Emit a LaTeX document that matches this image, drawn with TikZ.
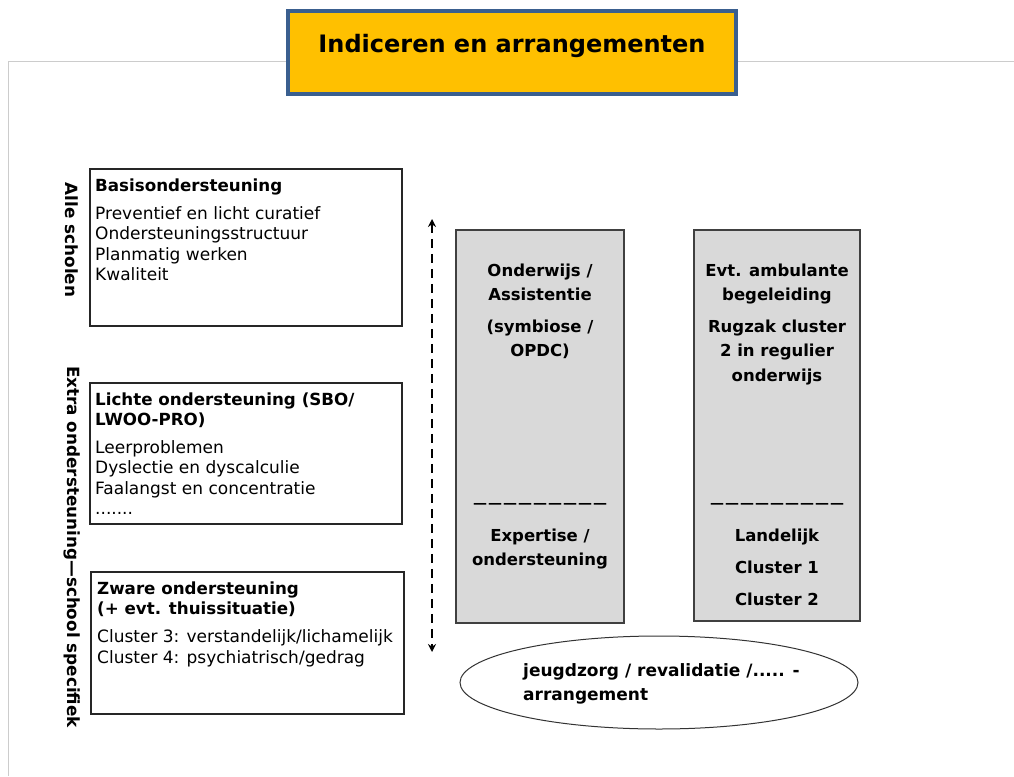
\documentclass[tikz,border=0pt]{standalone}
\usepackage{fontspec}
\setmainfont{DejaVu Sans}
\usetikzlibrary{shapes.geometric,arrows.meta}
\definecolor{titlefill}{HTML}{FFC000}
\definecolor{titleedge}{HTML}{3A5F8F}
\definecolor{grayfill}{HTML}{D9D9D9}
\definecolor{frameline}{HTML}{CCCCCC}
\newcommand{\dashrow}{{\fontsize{24}{24}\selectfont\mdseries\_\kern3pt\_\kern3pt\_\kern3pt\_\kern3pt\_\kern3pt\_\kern3pt\_\kern3pt\_\kern3pt\_}}
\tikzset{
  whitebox/.style={draw=black!85,line width=1.3pt,fill=white},
  graybox/.style={draw=black!75,line width=1.5pt,fill=grayfill},
  body/.style={anchor=base west,inner sep=0pt,align=left,font=\fontsize{17}{20.5}\selectfont},
  head/.style={anchor=base west,inner sep=0pt,align=left,font=\fontsize{16.7}{20}\selectfont\bfseries},
  gtext/.style={anchor=base,inner sep=0pt,align=center,font=\fontsize{16.5}{24}\selectfont\bfseries},
  side/.style={rotate=-90,inner sep=0pt,font=\fontsize{16.8}{18}\selectfont\bfseries},
}
\begin{document}
\begin{tikzpicture}[x=1pt,y=-1pt]
\useasboundingbox (0,0) rectangle (1014,776);
% page frame
\draw[frameline,line width=1pt] (8,776) -- (8,62) -- (1014,62);
% title
\node[draw=titleedge,line width=4pt,fill=titlefill,minimum width=448pt,minimum height=83pt,inner sep=0pt] (title) at (512,52.5) {};
\node[inner sep=0pt,font=\fontsize{24}{26}\selectfont\bfseries] (titletext) at (512,46) {Indiceren en arrangementen};
% left boxes
\node[whitebox,minimum width=312pt,minimum height=157pt,inner sep=0pt] (b1) at (246,247.5) {};
\node[whitebox,minimum width=312pt,minimum height=141pt,inner sep=0pt] (b2) at (246,453.5) {};
\node[whitebox,minimum width=313pt,minimum height=142pt,inner sep=0pt] (b3) at (247.5,643) {};
\node[head] (h1) at (95,191) {Basisondersteuning};
\node[body] (t1) at (95,280.5) {Preventief en licht curatief\\Ondersteuningsstructuur\\Planmatig werken\\Kwaliteit};
\node[head] (h2) at (95,425) {Lichte ondersteuning (SBO/\\LWOO-PRO)};
\node[body] (t2) at (95,514.5) {Leerproblemen\\Dyslectie en dyscalculie\\Faalangst en concentratie\\.......};
\node[head] (h3) at (97,614) {Zware ondersteuning\\(+ evt. thuissituatie)};
\node[body,font=\fontsize{17}{21.5}\selectfont] (t3) at (97,663.5) {Cluster 3: verstandelijk/lichamelijk\\Cluster 4: psychiatrisch/gedrag};
% side labels
\node[side] (s1) at (72,240) {Alle scholen};
\node[side] (s2) at (72,547) {Extra ondersteuning—school specifiek};
% dashed arrow
\coordinate (atop) at (432,219);
\coordinate (abot) at (432,652);
\draw[dashed,dash pattern=on 9pt off 6pt,line width=1.5pt,{Stealth[length=8pt,width=8pt]}-{Stealth[length=8pt,width=8pt]}] (atop) -- (abot);
% gray boxes
\node[graybox,minimum width=168pt,minimum height=393pt,inner sep=0pt] (g1) at (540,426.5) {};
\node[graybox,minimum width=166pt,minimum height=391pt,inner sep=0pt] (g2) at (777,425.5) {};
\node[gtext] (g1a) at (540,300) {Onderwijs /\\Assistentie};
\node[gtext] (g1b) at (540,356) {(symbiose /\\OPDC)};
\node[gtext] (g1c) at (540,499) {\dashrow};
\node[gtext] (g1d) at (540,565) {Expertise /\\ondersteuning};
\node[gtext] (g2a) at (777,300) {Evt. ambulante\\begeleiding};
\node[gtext,font=\fontsize{16.5}{24.5}\selectfont\bfseries] (g2b) at (777,381) {Rugzak cluster\\2 in regulier\\onderwijs};
\node[gtext] (g2c) at (777,499) {\dashrow};
\node[gtext,font=\fontsize{16.5}{32}\selectfont\bfseries] (g2d) at (777,605) {Landelijk\\Cluster 1\\Cluster 2};
% ellipse
\node[ellipse,draw=black!80,line width=1pt,fill=white,minimum width=398pt,minimum height=93pt,inner sep=0pt] (e) at (659,682.5) {};
\node[gtext,anchor=base west,align=left,font=\fontsize{17}{24}\selectfont\bfseries] (et) at (523,700) {jeugdzorg / revalidatie /..... -\\arrangement};
\end{tikzpicture}
\end{document}
